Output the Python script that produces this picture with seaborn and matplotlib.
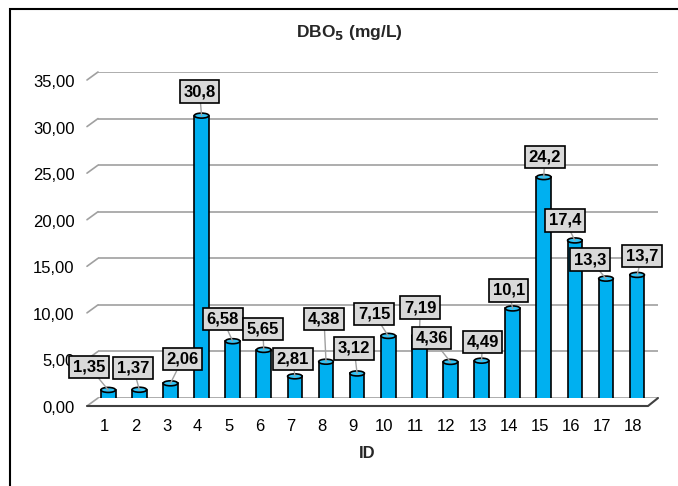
import pandas as pd
import seaborn as sns
import numpy as np
import matplotlib.pyplot as plt
from matplotlib.patches import Ellipse, Rectangle
from matplotlib.transforms import ScaledTranslation

ids = [str(i) for i in range(1, 19)]
dbo5 = [1.35, 1.37, 2.06, 30.8, 6.58, 5.65, 2.81, 4.38, 3.12,
        7.15, 7.19, 4.36, 4.49, 10.1, 24.2, 17.4, 13.3, 13.7]
yticks = [0, 5, 10, 15, 20, 25, 30, 35]

# label box offsets from bar top, in pixels (dx, dy)
label_offsets = [(-19, 23), (-6, 22), (12, 24), (-2, 24), (-10, 22), (-1, 21),
                 (-2, 17), (-2, 43), (-3, 25), (-14, 22), (1, 28), (-19, 24),
                 (1, 19), (-4, 18), (1, 20), (-10, 20), (-16, 19), (5, 19)]

df = pd.DataFrame({"ID": ids, "DBO5": dbo5})

sns.set_theme(style="white")
plt.rcParams['font.family'] = ['Liberation Sans', 'DejaVu Sans']

W, H = 678, 486
fig = plt.figure(figsize=(W / 100, H / 100), dpi=100)
ax = fig.add_axes([98 / W, (H - 398) / H, 560 / W, 326 / H])

blue = "#00B0F0"
sns.barplot(data=df, x="ID", y="DBO5", color=blue, width=0.47,
            edgecolor="black", linewidth=1.2, saturation=1, ax=ax, zorder=3)

# 3D depth: bars sit a little right of and below the back wall
depth = ScaledTranslation(4 / 100, -4.5 / 100, fig.dpi_scale_trans)
bar_tr = ax.transData + depth
for bar in ax.patches[:len(dbo5)]:
    bar.set_transform(bar_tr)

ax.set_xlim(-0.2, 17.8)
ax.set_ylim(0, 35)
ax.set_yticks(yticks)
ax.set_yticklabels([f"{v:.2f}".replace(".", ",") for v in yticks])
ax.grid(axis="y", color="#A0A0A0", linewidth=1.2, zorder=0)
ax.grid(axis="x", visible=False)
for s in ax.spines.values():
    s.set_visible(False)
ax.set_xlabel("")
ax.set_ylabel("")
ax.tick_params(axis="x", length=0, pad=15, labelsize=12, labelcolor="black")
ax.tick_params(axis="y", length=0, pad=17, labelsize=12, labelcolor="black")
for lab in ax.get_yticklabels():
    lab.set_transform(lab.get_transform() + ScaledTranslation(0, -9 / 100, fig.dpi_scale_trans))

# slanted 3D stubs on the gridlines and the floor edge
px_x = 31.1
px_y = 326 / 35
sx = 11 / px_x
sy = 8 / px_y
for t in yticks:
    ax.plot([-0.2 - sx, -0.2], [t - sy, t], color="#A0A0A0", lw=1.2, clip_on=False, zorder=1)
ax.plot([-0.2 - sx, 17.48, 17.8], [-sy, -sy, 0], color="#404040", lw=1.5, clip_on=False, zorder=2)

# cylinder tops and bottoms
for bar in ax.patches[:len(dbo5)]:
    cx = bar.get_x() + bar.get_width() / 2
    top = bar.get_height()
    ax.add_patch(Ellipse((cx, top), bar.get_width(), 5 / px_y, facecolor="#33C3F5",
                         edgecolor="black", lw=1.2, zorder=4, transform=bar_tr))
    ax.add_patch(Ellipse((cx, 0), bar.get_width(), 5 / px_y, facecolor=blue,
                         edgecolor="black", lw=1.2, zorder=2.9, transform=bar_tr))

# data labels
for i, (v, (dx, dy)) in enumerate(zip(dbo5, label_offsets)):
    ax.annotate(f"{v:.3g}".replace(".", ","), xy=(i, v), xycoords=bar_tr,
                xytext=(dx * 0.72, dy * 0.72),
                textcoords="offset points", ha="center", va="center",
                fontsize=12, fontweight="bold", color="black", zorder=6,
                bbox=dict(boxstyle="square,pad=0.22", fc="#D9D9D9", ec="black", lw=1.2),
                arrowprops=dict(arrowstyle="-", color="#A0A0A0", lw=1, shrinkA=0, shrinkB=0))

fig.text(349 / W, (H - 33) / H, r"DBO$_\mathbf{5}$ (mg/L)", ha="center", va="center",
         fontsize=12.5, fontweight="bold")
fig.text(367 / W, (H - 453) / H, "ID", ha="center", va="center",
         fontsize=12, fontweight="bold")

fig.patches.append(Rectangle((10 / W, -0.05), 1.2, (H - 9) / H + 0.05, transform=fig.transFigure,
                             fill=False, ec="black", lw=1.5, figure=fig))

fig.savefig("out.png", dpi=100)
